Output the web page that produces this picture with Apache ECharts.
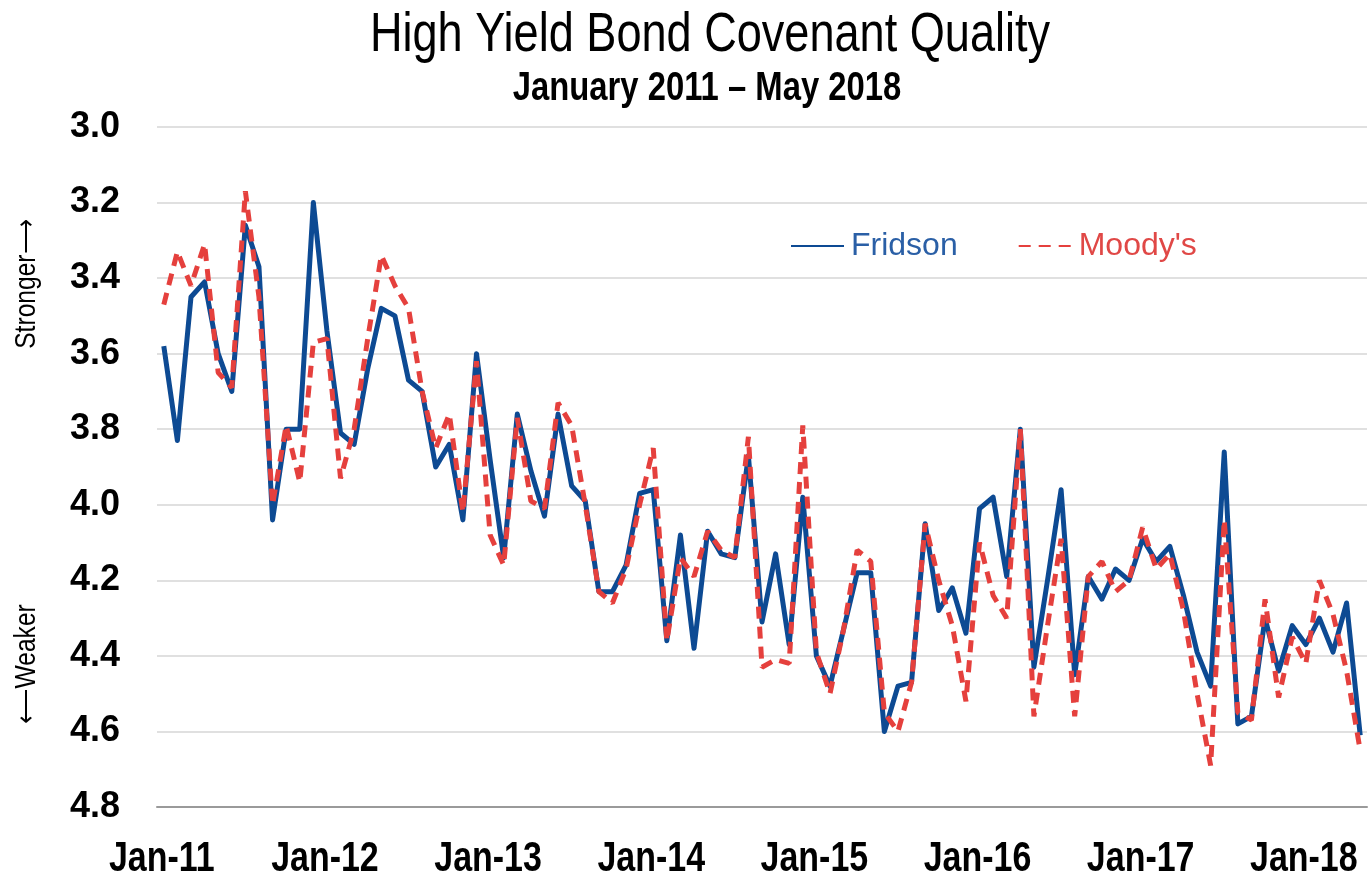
<!DOCTYPE html>
<html>
<head>
<meta charset="utf-8">
<title>High Yield Bond Covenant Quality</title>
<script src="https://cdn.jsdelivr.net/npm/echarts@6/dist/echarts.min.js"></script>
<style>
  html, body { margin: 0; padding: 0; background: #fff; }
  #chart { width: 1368px; height: 883px; }
</style>
</head>
<body>
<div id="chart"></div>
<script>
// monthly observations, Jan 2011 .. May 2018
const monthNames = ['Jan', 'Feb', 'Mar', 'Apr', 'May', 'Jun', 'Jul', 'Aug', 'Sep', 'Oct', 'Nov', 'Dec'];
const years = ['11', '12', '13', '14', '15', '16', '17', '18'];
const categories = [];
years.forEach(function (y) {
    monthNames.forEach(function (m) {
        if (categories.length < 89) categories.push(m + '-' + y);
    });
});

const fridson = [
    3.58, 3.83, 3.45, 3.41, 3.60, 3.70, 3.26, 3.37, 4.04, 3.80, 3.80, 3.20,
    3.54, 3.81, 3.84, 3.64, 3.48, 3.50, 3.67, 3.70, 3.90, 3.84, 4.04, 3.60,
    3.88, 4.14, 3.76, 3.91, 4.03, 3.76, 3.95, 3.99, 4.23, 4.23, 4.16, 3.97,
    3.96, 4.36, 4.08, 4.38, 4.07, 4.13, 4.14, 3.87, 4.31, 4.13, 4.37, 3.98,
    4.40, 4.48, 4.33, 4.18, 4.18, 4.60, 4.48, 4.47, 4.05, 4.28, 4.22, 4.34,
    4.01, 3.98, 4.19, 3.80, 4.43, 4.20, 3.96, 4.45, 4.19, 4.25, 4.17, 4.20,
    4.09, 4.15, 4.11, 4.24, 4.39, 4.48, 3.86, 4.58, 4.56, 4.30, 4.44, 4.32,
    4.37, 4.30, 4.39, 4.26, 4.61
];

const moodys = [
    3.47, 3.33, 3.42, 3.31, 3.65, 3.69, 3.17, 3.45, 4.00, 3.79, 3.94, 3.57,
    3.56, 3.93, 3.80, 3.56, 3.34, 3.42, 3.48, 3.70, 3.85, 3.76, 4.02, 3.62,
    4.08, 4.16, 3.77, 3.99, 4.01, 3.73, 3.79, 4.00, 4.23, 4.26, 4.17, 4.00,
    3.85, 4.36, 4.14, 4.19, 4.07, 4.12, 4.14, 3.82, 4.43, 4.41, 4.42, 3.79,
    4.39, 4.50, 4.33, 4.12, 4.15, 4.55, 4.60, 4.47, 4.05, 4.20, 4.32, 4.52,
    4.10, 4.24, 4.30, 3.80, 4.56, 4.32, 4.09, 4.56, 4.19, 4.15, 4.23, 4.20,
    4.06, 4.17, 4.13, 4.28, 4.50, 4.69, 4.04, 4.55, 4.57, 4.25, 4.51, 4.35,
    4.42, 4.20, 4.29, 4.44, 4.65
];

const yMin = 3.0, yMax = 4.8, yStep = 0.2;

const sans = '"Liberation Sans", Arial, sans-serif';
// no narrow face is installed, so the condensed look comes from scaleX
const squeeze = 0.82;

function everyYear(i) { return i % 12 === 0; }

let myChart = echarts.init(document.getElementById('chart'));

myChart.setOption({
    backgroundColor: '#fff',
    animation: false,
    grid: { left: 157, right: 1, top: 127, bottom: 76 },
    legend: {
        left: 785,
        top: 225,
        itemWidth: 53,
        itemHeight: 14,
        itemGap: 60,
        itemStyle: { opacity: 0, borderWidth: 0 },
        textStyle: { fontFamily: sans, fontSize: 32, padding: [0, 0, 0, 2] },
        data: [
            { name: 'Fridson', textStyle: { color: '#2a5fa6' } },
            { name: "Moody's", textStyle: { color: '#e04846' } }
        ]
    },
    xAxis: {
        type: 'category',
        data: categories,
        boundaryGap: true,
        axisLine: { lineStyle: { color: '#9a9a9a', width: 2 } },
        axisTick: { interval: everyYear, length: 9, lineStyle: { color: '#9a9a9a', width: 1.5 } },
        // year labels are drawn below as condensed text, placed through the axis
        axisLabel: { show: false },
        splitLine: { show: false }
    },
    yAxis: {
        type: 'value',
        inverse: true,
        min: yMin,
        max: yMax,
        interval: yStep,
        axisLine: { show: false },
        axisTick: { show: false },
        axisLabel: {
            fontFamily: sans,
            fontWeight: 'bold',
            fontSize: 36,
            color: '#000',
            margin: 37,
            formatter: function (v) { return v.toFixed(1); }
        },
        splitLine: { lineStyle: { color: '#d6d6d6', width: 1.5 } }
    },
    graphic: [
        {
            id: 'title', type: 'text', x: 710, y: 36, scaleX: squeeze,
            style: { text: 'High Yield Bond Covenant Quality', font: '55px ' + sans, fill: '#000', textAlign: 'center', textVerticalAlign: 'middle' }
        },
        {
            id: 'subtitle', type: 'text', x: 707, y: 89, scaleX: squeeze,
            style: { text: 'January 2011 \u2013 May 2018', font: 'bold 40px ' + sans, fill: '#000', textAlign: 'center', textVerticalAlign: 'middle' }
        },
        {
            id: 'stronger', type: 'text', x: 27, y: 284, rotation: Math.PI / 2, scaleX: squeeze,
            style: { text: 'Stronger\u27f6', font: '30px ' + sans, fill: '#000', textAlign: 'center', textVerticalAlign: 'middle' }
        },
        {
            id: 'weaker', type: 'text', x: 27, y: 664, rotation: Math.PI / 2, scaleX: squeeze,
            style: { text: '\u27f5Weaker', font: '30px ' + sans, fill: '#000', textAlign: 'center', textVerticalAlign: 'middle' }
        }
    ],
    series: [
        {
            name: 'Fridson',
            type: 'line',
            data: fridson,
            symbol: 'none',
            color: '#0d4a93',
            lineStyle: { color: '#0d4a93', width: 5, join: 'round' }
        },
        {
            name: "Moody's",
            type: 'line',
            data: moodys,
            symbol: 'none',
            color: '#e5403d',
            lineStyle: { color: '#e5403d', width: 5, type: [12, 8] }
        }
    ]
});

// condensed year labels, x taken from the category axis, y from the value axis
let axisBottom = myChart.convertToPixel({ yAxisIndex: 0 }, yMax);
let yearLabels = [];
categories.forEach(function (c, i) {
    if (!everyYear(i)) return;
    yearLabels.push({
        id: 'year' + i,
        type: 'text',
        x: myChart.convertToPixel({ xAxisIndex: 0 }, i) - 2,
        y: axisBottom + 52,
        scaleX: 0.79,
        style: { text: c, font: 'bold 43px ' + sans, fill: '#000', textAlign: 'center', textVerticalAlign: 'middle' }
    });
});
myChart.setOption({ graphic: yearLabels });
</script>
</body>
</html>
